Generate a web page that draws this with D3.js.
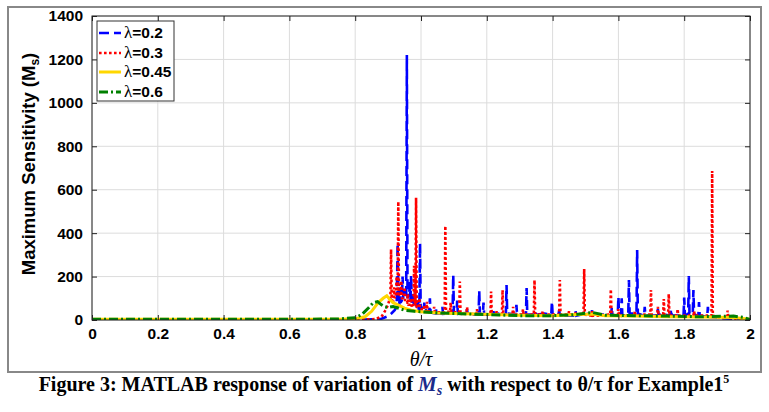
<!DOCTYPE html>
<html><head><meta charset="utf-8">
<script src="https://cdn.jsdelivr.net/npm/d3@7/dist/d3.min.js"></script>
<style>body{margin:0;background:#fff}svg{display:block}</style>
</head><body>
<svg id="c" width="769" height="412"></svg>
<script>
// ---- data ----
const xTicks = [0, 0.2, 0.4, 0.6, 0.8, 1, 1.2, 1.4, 1.6, 1.8, 2];
const yTicks = [0, 200, 400, 600, 800, 1000, 1200, 1400];
const legendLabels = ["=0.2", "=0.3", "=0.45", "=0.6"];

const lambda02 = [[0,1],[0.8,2],[0.86,3],[0.88,6],[0.9,18],[0.91,30],[0.92,45],[0.926,60],[0.929,353],[0.932,60],[0.934,70],[0.936,150],[0.938,80],[0.942,90],[0.944,200],[0.946,100],[0.95,110],[0.952,140],[0.954,100],[0.955,100],[0.957,1220],[0.959,100],[0.962,120],[0.964,110],[0.966,180],[0.968,90],[0.97,207],[0.972,80],[0.974,90],[0.978,70],[0.98,130],[0.982,60],[0.985,70],[0.988,60],[0.99,100],[0.993,50],[0.995,50],[0.997,353],[0.999,50],[1.002,60],[1.008,40],[1.01,80],[1.012,40],[1.015,45],[1.025,35],[1.027,100],[1.029,35],[1.043,30],[1.045,55],[1.047,30],[1.063,30],[1.065,60],[1.067,28],[1.083,30],[1.085,40],[1.087,30],[1.096,30],[1.098,207],[1.1,35],[1.108,30],[1.11,90],[1.112,30],[1.138,25],[1.14,50],[1.142,25],[1.175,25],[1.177,134],[1.179,30],[1.188,25],[1.19,80],[1.192,25],[1.218,25],[1.22,40],[1.222,25],[1.24,30],[1.258,25],[1.26,161],[1.262,30],[1.288,25],[1.29,70],[1.292,25],[1.319,25],[1.321,147],[1.323,25],[1.348,25],[1.35,40],[1.352,25],[1.375,30],[1.396,25],[1.398,84],[1.4,25],[1.418,25],[1.42,45],[1.422,20],[1.44,20],[1.468,20],[1.47,40],[1.472,20],[1.5,30],[1.518,25],[1.52,45],[1.522,25],[1.55,25],[1.578,20],[1.58,60],[1.582,20],[1.598,20],[1.6,107],[1.602,25],[1.608,25],[1.61,100],[1.612,20],[1.63,25],[1.632,184],[1.634,30],[1.655,30],[1.657,322],[1.659,30],[1.678,20],[1.68,60],[1.682,20],[1.7,20],[1.718,20],[1.72,50],[1.722,25],[1.74,25],[1.758,20],[1.76,50],[1.762,20],[1.78,20],[1.798,20],[1.8,103],[1.802,25],[1.812,25],[1.814,203],[1.816,30],[1.826,25],[1.828,138],[1.83,25],[1.843,20],[1.845,83],[1.847,20],[1.87,15],[1.872,61],[1.874,15],[1.9,10],[1.95,5],[2.0,2]];

const lambda03 = [[0,1],[0.8,2],[0.86,4],[0.88,15],[0.89,40],[0.9,70],[0.905,100],[0.907,100],[0.909,325],[0.911,90],[0.916,90],[0.918,150],[0.92,100],[0.922,110],[0.924,110],[0.926,200],[0.928,110],[0.929,110],[0.931,545],[0.933,120],[0.938,110],[0.94,180],[0.942,100],[0.945,100],[0.948,100],[0.95,150],[0.952,80],[0.955,80],[0.958,80],[0.96,120],[0.962,70],[0.965,70],[0.968,70],[0.97,100],[0.972,60],[0.975,60],[0.977,60],[0.979,250],[0.981,70],[0.983,70],[0.985,563],[0.987,60],[0.993,55],[0.995,100],[0.997,50],[1.0,50],[1.008,45],[1.01,70],[1.012,45],[1.016,40],[1.018,84],[1.02,40],[1.025,40],[1.038,35],[1.04,60],[1.042,35],[1.05,35],[1.072,35],[1.074,433],[1.076,40],[1.088,35],[1.09,80],[1.092,35],[1.116,35],[1.118,177],[1.12,35],[1.138,30],[1.14,60],[1.142,30],[1.15,30],[1.168,25],[1.17,50],[1.172,25],[1.18,25],[1.211,25],[1.213,131],[1.215,25],[1.228,25],[1.23,40],[1.232,25],[1.246,25],[1.248,138],[1.25,25],[1.278,25],[1.28,60],[1.282,25],[1.29,25],[1.308,25],[1.31,50],[1.312,25],[1.32,25],[1.343,25],[1.345,184],[1.347,25],[1.368,25],[1.37,40],[1.372,25],[1.39,25],[1.42,25],[1.422,184],[1.424,25],[1.448,25],[1.45,40],[1.452,25],[1.47,30],[1.494,25],[1.496,235],[1.498,25],[1.518,20],[1.52,40],[1.522,20],[1.54,20],[1.575,25],[1.577,141],[1.579,25],[1.598,20],[1.6,50],[1.602,20],[1.62,20],[1.648,20],[1.65,40],[1.652,20],[1.68,25],[1.697,25],[1.699,138],[1.701,25],[1.718,20],[1.72,60],[1.722,20],[1.736,20],[1.738,97],[1.74,20],[1.751,20],[1.753,120],[1.755,20],[1.778,20],[1.78,50],[1.782,20],[1.8,20],[1.828,20],[1.83,40],[1.832,20],[1.85,20],[1.883,20],[1.885,686],[1.887,20],[1.91,10],[1.93,10],[1.932,43],[1.934,10],[1.96,5],[2.0,2]];

const lambda045 = [[0,3],[0.6,3],[0.75,4],[0.8,6],[0.83,15],[0.85,40],[0.87,80],[0.885,100],[0.896,112],[0.905,95],[0.915,80],[0.93,70],[0.95,55],[0.97,45],[1.0,38],[1.05,32],[1.1,30],[1.2,26],[1.3,22],[1.4,20],[1.48,25],[1.52,28],[1.56,20],[1.65,18],[1.75,15],[1.85,14],[1.95,12],[2.0,3]];

const lambda06 = [[0,3],[0.6,3],[0.75,5],[0.8,10],[0.82,25],[0.84,55],[0.855,80],[0.868,85],[0.88,70],[0.89,60],[0.9,58],[0.915,62],[0.93,55],[0.95,45],[0.98,40],[1.0,38],[1.05,33],[1.1,30],[1.2,25],[1.3,20],[1.4,20],[1.47,25],[1.52,35],[1.56,22],[1.65,20],[1.75,18],[1.85,15],[1.95,18],[1.98,12],[2.0,2]];

// ---- layout ----
const svg = d3.select("#c");
const L = 92, T = 16, W = 658, H = 304;
const x = d3.scaleLinear().domain([0, 2]).range([L, L + W]);
const y = d3.scaleLinear().domain([0, 1400]).range([T + H, T]);

svg.append("rect").attr("x",0).attr("y",0).attr("width",769).attr("height",412).attr("fill","#fff");
svg.append("rect").attr("x",8).attr("y",7).attr("width",753).attr("height",365)
  .attr("fill","none").attr("stroke","#888").attr("stroke-width",2);

svg.append("rect").attr("x",L).attr("y",T).attr("width",W).attr("height",H).attr("fill","#fff");

// grid
const g = svg.append("g");
g.selectAll(".gx").data(xTicks).join("line")
  .attr("x1",d=>x(d)).attr("x2",d=>x(d)).attr("y1",T).attr("y2",T+H)
  .attr("stroke","#dcdcdc").attr("stroke-width",1);
g.selectAll(".gy").data(yTicks).join("line")
  .attr("y1",d=>y(d)).attr("y2",d=>y(d)).attr("x1",L).attr("x2",L+W)
  .attr("stroke","#dcdcdc").attr("stroke-width",1);

// clip
svg.append("clipPath").attr("id","clip").append("rect")
  .attr("x",L).attr("y",T-2).attr("width",W).attr("height",H+2);

const line = d3.line().x(d=>x(d[0])).y(d=>y(d[1]));
const series = [
  {data: lambda02, color:"#0000ff", w:2.6, dash:"10,5"},
  {data: lambda03, color:"#ff0000", w:2.6, dash:"2.6,2.4"},
  {data: lambda045, color:"#ffd700", w:3, dash:null},
  {data: lambda06, color:"#008000", w:3, dash:"9,3,2,3"}
];
const lines = svg.append("g").attr("clip-path","url(#clip)");
series.forEach(s=>{
  lines.append("path").datum(s.data).attr("d",line)
    .attr("fill","none").attr("stroke",s.color).attr("stroke-width",s.w)
    .attr("stroke-dasharray",s.dash).attr("stroke-linejoin","miter").attr("stroke-miterlimit",2);
});

// axes
const xAxis = d3.axisBottom(x).tickValues(xTicks).tickSize(-5).tickPadding(8).tickFormat(d3.format(""));
const yAxis = d3.axisLeft(y).tickValues(yTicks).tickSize(-5).tickPadding(9).tickFormat(d3.format("d"));
const ax = svg.append("g").attr("transform",`translate(0,${T+H})`).call(xAxis);
const ay = svg.append("g").attr("transform",`translate(${L},0)`).call(yAxis);
svg.append("g").attr("transform",`translate(0,${T})`).call(d3.axisTop(x).tickValues(xTicks).tickSize(-5).tickFormat(""));
svg.append("g").attr("transform",`translate(${L+W},0)`).call(d3.axisRight(y).tickValues(yTicks).tickSize(-5).tickFormat(""));
svg.selectAll(".domain").remove();
svg.selectAll(".tick line").attr("stroke","#222");
[ax, ay].forEach(a=>a.selectAll("text").attr("font-family","Liberation Sans, Arial, sans-serif")
  .attr("font-size",15.5).attr("font-weight","bold").attr("fill","#000"));
svg.append("rect").attr("x",L).attr("y",T).attr("width",W).attr("height",H)
  .attr("fill","none").attr("stroke","#222").attr("stroke-width",1);

// y label
const yl = svg.append("text").attr("transform",`translate(35,${T+H/2-4}) rotate(-90)`)
  .attr("text-anchor","middle").attr("font-family","Liberation Sans, Arial, sans-serif")
  .attr("font-size",18.5).attr("font-weight","bold");
yl.append("tspan").text("Maximum Sensitivity (M");
yl.append("tspan").attr("font-size",12).attr("dy",4).text("s");
yl.append("tspan").attr("dy",-4).text(")");

// x label
svg.append("text").attr("x",L+W/2).attr("y",366).attr("text-anchor","middle")
  .attr("font-family","Liberation Serif, Times New Roman, serif").attr("font-style","italic")
  .attr("font-size",20).text("θ/τ");

// legend
const lg = svg.append("g");
lg.append("rect").attr("x",97).attr("y",21).attr("width",77).attr("height",80)
  .attr("fill","#fff").attr("stroke","#333").attr("stroke-width",1);
const ly = [33, 53, 72, 92];
series.forEach((s,i)=>{
  lg.append("line").attr("x1",99).attr("x2",121).attr("y1",ly[i]).attr("y2",ly[i])
    .attr("stroke",s.color).attr("stroke-width",s.w).attr("stroke-dasharray",s.dash);
  const t = lg.append("text").attr("x",124).attr("y",ly[i]+5);
  t.append("tspan").attr("font-family","Liberation Serif, Times New Roman, serif").attr("font-size",17).text("λ");
  t.append("tspan").attr("font-family","Liberation Sans, Arial, sans-serif").attr("font-size",15.5).attr("font-weight","bold").text(legendLabels[i]);
});

// caption
const cap = svg.append("text").attr("x",384).attr("y",391).attr("text-anchor","middle")
  .attr("font-family","Liberation Serif, Times New Roman, serif").attr("font-weight","bold").attr("font-size",20);
cap.append("tspan").text("Figure 3: MATLAB response of variation of ");
cap.append("tspan").attr("font-style","italic").attr("fill","#1a2a8a").attr("font-size",21).text("M");
cap.append("tspan").attr("font-style","italic").attr("fill","#1a2a8a").attr("font-size",14).attr("dy",4).text("s");
cap.append("tspan").attr("dy",-4).text(" with respect to θ/τ for Example1");
cap.append("tspan").attr("font-size",12).attr("dy",-8).text("5");
</script>
</body></html>
